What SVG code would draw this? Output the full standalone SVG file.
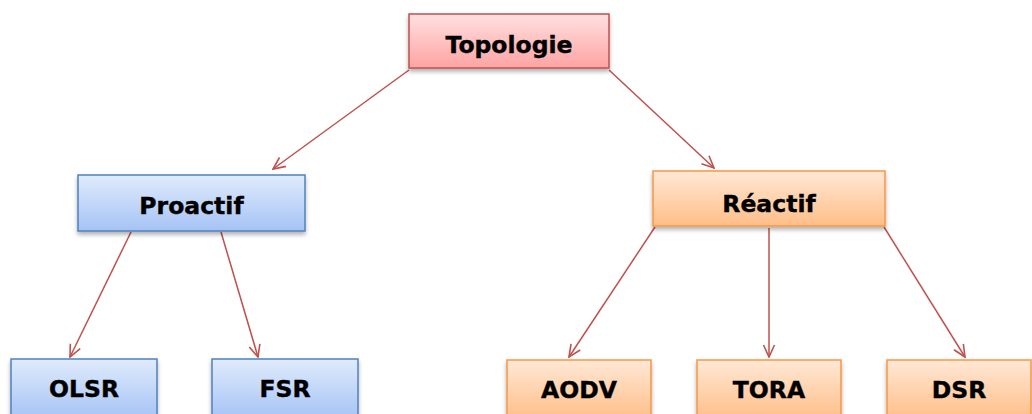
<svg xmlns="http://www.w3.org/2000/svg" width="1032" height="414" viewBox="0 0 1032 414">
  <defs>
    <linearGradient id="gRed" x1="0" y1="0" x2="0" y2="1">
      <stop offset="0" stop-color="#FFE0E0"/>
      <stop offset="1" stop-color="#FFA3A3"/>
    </linearGradient>
    <linearGradient id="gBlue" x1="0" y1="0" x2="0" y2="1">
      <stop offset="0" stop-color="#E0EBFC"/>
      <stop offset="1" stop-color="#A5C3F5"/>
    </linearGradient>
    <linearGradient id="gOrange" x1="0" y1="0" x2="0" y2="1">
      <stop offset="0" stop-color="#FFE8D6"/>
      <stop offset="1" stop-color="#FFBE88"/>
    </linearGradient>
    <filter id="shadow" x="-10%" y="-20%" width="120%" height="150%">
      <feDropShadow dx="0" dy="3" stdDeviation="2" flood-color="#000" flood-opacity="0.3"/>
    </filter>
    <marker id="arrow" viewBox="0 0 14 14" refX="13" refY="7" markerWidth="14" markerHeight="14" markerUnits="userSpaceOnUse" orient="auto">
      <path d="M1,1.5 L13,7 L1,12.5" fill="none" stroke="#C0504D" stroke-width="1.6"/>
    </marker>
  </defs>
  <style>
    .red { fill: url(#gRed); stroke: #C0504D; stroke-width: 1.5; filter: url(#shadow); }
    .blue { fill: url(#gBlue); stroke: #4F81BD; stroke-width: 1.5; filter: url(#shadow); }
    .orange { fill: url(#gOrange); stroke: #F79646; stroke-width: 1.5; filter: url(#shadow); }
    .label { font-family: "DejaVu Sans", Verdana, sans-serif; font-weight: bold; font-size: 23.5px; fill: #000; text-anchor: middle; stroke: #000; stroke-width: 0.4; }
    .edge { stroke: #C0504D; stroke-width: 1.5; fill: none; marker-end: url(#arrow); }
  </style>

  <g id="connectors">
    <line class="edge" x1="409" y1="70" x2="273" y2="169"/>
    <line class="edge" x1="609" y1="70" x2="714" y2="168"/>
    <line class="edge" x1="131" y1="232" x2="70" y2="357"/>
    <line class="edge" x1="221" y1="232" x2="258" y2="357"/>
    <line class="edge" x1="655" y1="227" x2="569" y2="357"/>
    <line class="edge" x1="769" y1="228" x2="769" y2="357"/>
    <line class="edge" x1="884" y1="227" x2="965" y2="357"/>
  </g>

  <g id="topologie">
    <rect class="red" x="409" y="14" width="200" height="54"/>
    <text class="label" x="509" y="53">Topologie</text>
  </g>
  <g id="proactif">
    <rect class="blue" x="78" y="175" width="227" height="56"/>
    <text class="label" x="191.5" y="214">Proactif</text>
  </g>
  <g id="reactif">
    <rect class="orange" x="653" y="171" width="232" height="55"/>
    <text class="label" x="769" y="212">Réactif</text>
  </g>
  <g id="olsr">
    <rect class="blue" x="11" y="359" width="146" height="60"/>
    <text class="label" x="84" y="397">OLSR</text>
  </g>
  <g id="fsr">
    <rect class="blue" x="212" y="359" width="146" height="60"/>
    <text class="label" x="285" y="397">FSR</text>
  </g>
  <g id="aodv">
    <rect class="orange" x="507" y="360" width="144" height="60"/>
    <text class="label" x="579" y="398">AODV</text>
  </g>
  <g id="tora">
    <rect class="orange" x="697" y="360" width="144" height="60"/>
    <text class="label" x="769" y="398">TORA</text>
  </g>
  <g id="dsr">
    <rect class="orange" x="887" y="360" width="144" height="60"/>
    <text class="label" x="959" y="398">DSR</text>
  </g>
</svg>
